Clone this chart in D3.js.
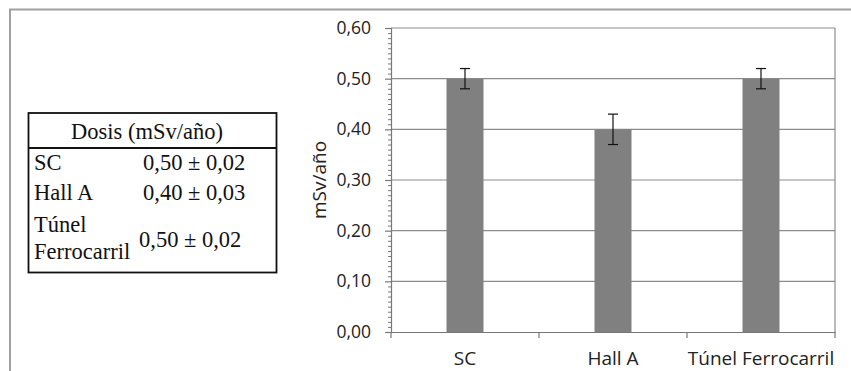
<!DOCTYPE html>
<html>
<head>
<meta charset="utf-8">
<script src="https://cdn.jsdelivr.net/npm/d3@7"></script>
<style>
  html, body { margin: 0; padding: 0; background: #fff; }
  svg { display: block; }
</style>
</head>
<body>
<svg id="chart" width="851" height="371"></svg>
<script>
// ---- data ----
const categories = ["SC", "Hall A", "Túnel Ferrocarril"];
const values = [0.50, 0.40, 0.50];
const errors = [0.02, 0.03, 0.02];
const yTicks = [0, 0.1, 0.2, 0.3, 0.4, 0.5, 0.6];
const tableHeader = "Dosis (mSv/año)";
const tableLabels = [["SC"], ["Hall A"], ["Túnel", "Ferrocarril"]];
const tableValues = ["0,50 ± 0,02", "0,40 ± 0,03", "0,50 ± 0,02"];
const yTitle = "mSv/año";

const svg = d3.select("#chart");
const fmt = d => d3.format(".2f")(d).replace(".", ",");

// outer frame
svg.append("path")
  .attr("d", "M10,371 L10,9.5 L851,9.5")
  .attr("fill", "none").attr("stroke", "#a0a0a0").attr("stroke-width", 2);

// ---- chart ----
const plot = { left: 391, right: 835, top: 28, bottom: 332 };
const x = d3.scaleBand().domain(categories).range([plot.left, plot.right]).paddingInner(0.75).paddingOuter(0.375);
const xb = d3.scaleBand().domain(categories).range([plot.left, plot.right]);
const y = d3.scaleLinear().domain([0, 0.6]).range([plot.bottom, plot.top]);

const chartFont = "'Open Sans', sans-serif";

// gridlines
svg.append("g").selectAll("line").data(yTicks.filter(d => d > 0)).join("line")
  .attr("x1", plot.left).attr("x2", plot.right)
  .attr("y1", d => y(d)).attr("y2", d => y(d))
  .attr("stroke", "#8c8c8c").attr("stroke-width", 1.2);

// right border of plot
svg.append("line")
  .attr("x1", plot.right).attr("x2", plot.right)
  .attr("y1", plot.top).attr("y2", plot.bottom)
  .attr("stroke", "#8c8c8c").attr("stroke-width", 1.2);

// bars
svg.append("g").selectAll("rect").data(categories).join("rect")
  .attr("x", d => x(d)).attr("width", x.bandwidth())
  .attr("y", (d, i) => y(values[i])).attr("height", (d, i) => y(0) - y(values[i]))
  .attr("fill", "#808080");

// error bars
const eb = svg.append("g").attr("stroke", "#111").attr("stroke-width", 1.2);
categories.forEach((c, i) => {
  const cx = x(c) + x.bandwidth() / 2;
  const hi = y(values[i] + errors[i]), lo = y(values[i] - errors[i]);
  eb.append("line").attr("x1", cx).attr("x2", cx).attr("y1", hi).attr("y2", lo);
  eb.append("line").attr("x1", cx - 5).attr("x2", cx + 5).attr("y1", hi).attr("y2", hi);
  eb.append("line").attr("x1", cx - 5).attr("x2", cx + 5).attr("y1", lo).attr("y2", lo);
});

// y axis
const yAxis = d3.axisLeft(y).tickValues(yTicks).tickFormat(fmt).tickSize(6).tickPadding(14);
const gy = svg.append("g").attr("transform", `translate(${plot.left},0)`).call(yAxis);
gy.select(".domain").attr("stroke", "#777").attr("stroke-width", 1.2);
gy.selectAll(".tick line").attr("stroke", "#777").attr("stroke-width", 1.2);
gy.selectAll(".tick text").attr("font-family", chartFont).attr("font-size", 17.5).attr("fill", "#222");
// minor ticks
const minor = d3.range(0, 61).map(d => d / 100).filter((d, i) => i % 10 !== 0);
const gyMinor = d3.axisLeft(y).tickValues(minor).tickFormat("").tickSize(3);
const gm = svg.append("g").attr("transform", `translate(${plot.left},0)`).call(gyMinor);
gm.select(".domain").remove();
gm.selectAll(".tick line").attr("stroke", "#777");

// x axis
const gx = svg.append("g").attr("transform", `translate(0,${plot.bottom})`)
  .call(d3.axisBottom(x).tickSize(0).tickPadding(20));
gx.select(".domain").attr("stroke", "#777").attr("stroke-width", 1.2);
gx.selectAll(".tick text").attr("font-family", chartFont).attr("font-size", 19).attr("fill", "#222");
// category boundary ticks
svg.append("g").selectAll("line")
  .data(categories.map(c => xb(c)).concat([plot.right]))
  .join("line")
  .attr("x1", d => d).attr("x2", d => d)
  .attr("y1", plot.bottom).attr("y2", plot.bottom + 6)
  .attr("stroke", "#777").attr("stroke-width", 1.2);

// y title
svg.append("text")
  .attr("transform", `translate(326,${(plot.top + plot.bottom) / 2}) rotate(-90)`)
  .attr("text-anchor", "middle")
  .attr("font-family", chartFont).attr("font-size", 19).attr("fill", "#222")
  .text(yTitle);

// ---- table ----
const tbl = { left: 28.5, right: 276.5, top: 113, header: 148, bottom: 272.5 };
const tableFont = "'Liberation Serif', 'Times New Roman', serif";
const tg = svg.append("g").attr("font-family", tableFont).attr("font-size", 22.5).attr("fill", "#111");
tg.append("rect")
  .attr("x", tbl.left).attr("y", tbl.top)
  .attr("width", tbl.right - tbl.left).attr("height", tbl.bottom - tbl.top)
  .attr("fill", "none").attr("stroke", "#111").attr("stroke-width", 1.8);
tg.append("line")
  .attr("x1", tbl.left).attr("x2", tbl.right).attr("y1", tbl.header).attr("y2", tbl.header)
  .attr("stroke", "#111").attr("stroke-width", 1.8);
tg.append("text").attr("x", 147).attr("y", 139).attr("text-anchor", "middle").text(tableHeader);

const rowBase = [170, 200, 232];
tableLabels.forEach((lines, i) => {
  lines.forEach((l, j) => {
    tg.append("text").attr("x", 34).attr("y", rowBase[i] + j * 27).text(l);
  });
});
const valBase = [170, 200, 247];
const valX = [143, 143, 139];
tableValues.forEach((v, i) => {
  tg.append("text").attr("x", valX[i]).attr("y", valBase[i]).text(v);
});
</script>
</body>
</html>
